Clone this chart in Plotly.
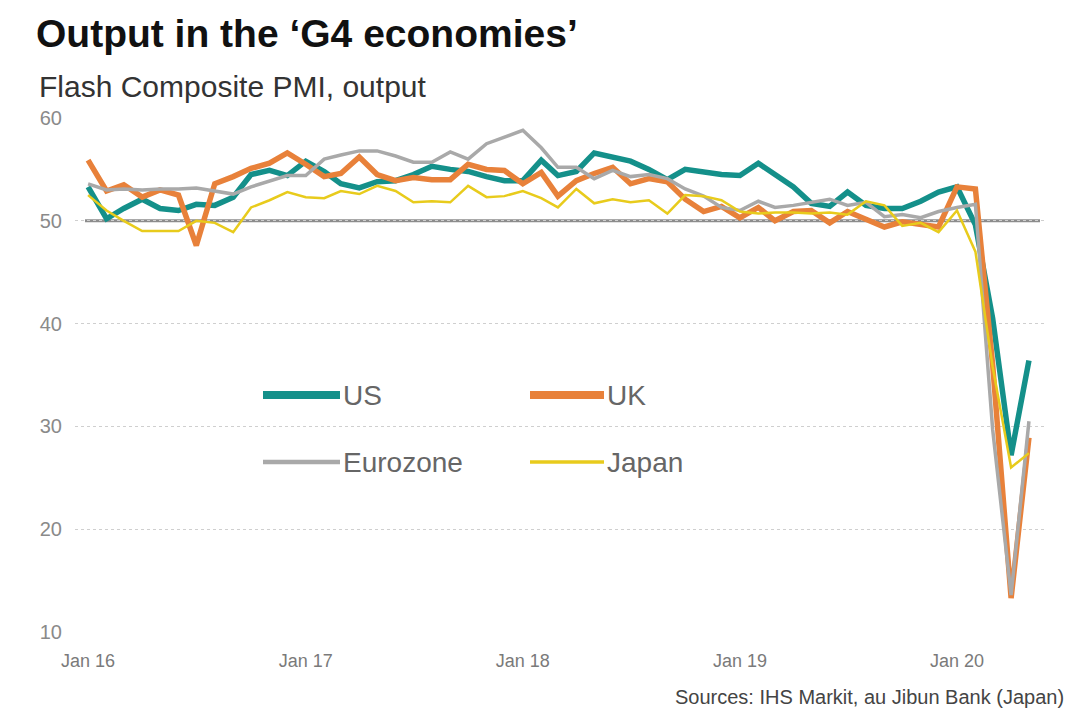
import pandas as pd
import plotly.graph_objects as go

# ---------------- data ----------------
months = pd.date_range("2016-01-01", "2020-05-01", freq="MS")

us = [53.3, 50.2, 51.2, 52.1, 51.2, 51.0, 51.6, 51.5, 52.3, 54.5, 54.9, 54.4,
      55.8, 54.8, 53.6, 53.2, 53.8, 53.9, 54.5, 55.3, 55.0, 54.8, 54.3, 53.9,
      53.9, 55.9, 54.4, 54.8, 56.6, 56.2, 55.8, 55.0, 54.0, 55.0, 54.7, 54.5,
      54.4, 55.6, 54.5, 53.3, 51.7, 51.4, 52.8, 51.5, 51.2, 51.2, 51.9, 52.8,
      53.3, 49.6, 40.5, 27.2, 36.4]

uk = [55.9, 52.9, 53.5, 52.3, 53.0, 52.5, 47.6, 53.6, 54.3, 55.1, 55.6, 56.6,
      55.5, 54.3, 54.6, 56.2, 54.5, 53.9, 54.2, 54.0, 54.0, 55.5, 55.0, 54.9,
      53.6, 54.7, 52.4, 53.9, 54.6, 55.2, 53.6, 54.1, 53.8, 52.1, 50.9, 51.4,
      50.3, 51.3, 50.0, 50.9, 51.0, 49.8, 50.9, 50.2, 49.4, 49.9, 49.6, 49.4,
      53.3, 53.1, 36.0, 13.3, 28.9]

eurozone = [53.6, 53.0, 53.1, 53.0, 53.1, 53.1, 53.2, 52.9, 52.6, 53.3, 53.9, 54.4,
            54.4, 56.0, 56.4, 56.8, 56.8, 56.3, 55.7, 55.7, 56.7, 56.0, 57.5, 58.1,
            58.8, 57.1, 55.2, 55.2, 54.1, 54.9, 54.3, 54.5, 54.1, 53.1, 52.4, 51.3,
            51.0, 51.9, 51.3, 51.5, 51.8, 52.1, 51.5, 51.8, 50.4, 50.6, 50.3, 50.9,
            51.3, 51.6, 29.7, 13.6, 30.5]

japan = [52.5, 51.0, 50.0, 49.0, 49.0, 49.0, 50.0, 49.8, 48.9, 51.3, 52.0, 52.8,
         52.3, 52.2, 52.9, 52.6, 53.4, 52.9, 51.8, 51.9, 51.8, 53.4, 52.3, 52.4,
         52.9, 52.2, 51.3, 53.1, 51.7, 52.1, 51.8, 52.0, 50.7, 52.5, 52.4, 52.0,
         50.9, 50.7, 50.8, 50.8, 50.7, 50.8, 50.6, 51.9, 51.5, 49.5, 49.8, 48.9,
         51.0, 47.0, 35.8, 26.0, 27.4]

tick_dates = ["2016-01-01", "2017-01-01", "2018-01-01", "2019-01-01", "2020-01-01"]
tick_labels = ["Jan 16", "Jan 17", "Jan 18", "Jan 19", "Jan 20"]
y_ticks = [10, 20, 30, 40, 50, 60]

title = "Output in the \u2018G4 economies\u2019"
subtitle = "Flash Composite PMI, output"
source = "Sources: IHS Markit, au Jibun Bank (Japan)"

# ---------------- style ----------------
OFF = 8                      # page body margin of the html page
W, H = 1078 - OFF, 715 - OFF
L, R, T, B = 75 - OFF, 33, 118 - OFF, 83
PW, PH = W - L - R, H - T - B

styles = {
    "US": ("#14908a", 5.5),
    "UK": ("#e8813a", 5.5),
    "Eurozone": ("#a9a9a9", 3.5),
    "Japan": ("#e8cb1c", 2.5),
}
series = [("US", us), ("UK", uk), ("Eurozone", eurozone), ("Japan", japan)]

FONT = "Liberation Sans, Arial, sans-serif"

fig = go.Figure()
for name, vals in series:
    color, width = styles[name]
    fig.add_trace(go.Scatter(x=months, y=vals, mode="lines", name=name,
                             line=dict(color=color, width=width),
                             showlegend=False))


def px_x(px):
    # page pixel -> paper x
    return (px - OFF - L) / PW


def px_y(py):
    # page pixel -> paper y
    return (T + PH - (py - OFF)) / PH


shapes = [dict(type="line", xref="paper", yref="y", x0=px_x(85), x1=px_x(1040),
               y0=50, y1=50, line=dict(color="#8c8c8c", width=3), layer="below")]
annotations = []

# manual legend (2 x 2)
legend_pos = {"US": (263, 340, 395), "UK": (530, 604, 395),
              "Eurozone": (263, 340, 462), "Japan": (530, 604, 462)}
for name, _ in series:
    color, width = styles[name]
    x0, x1, yy = legend_pos[name]
    shapes.append(dict(type="line", xref="paper", yref="paper",
                       x0=px_x(x0), x1=px_x(x1), y0=px_y(yy), y1=px_y(yy),
                       line=dict(color=color, width=width + 2.5 if width > 4 else width + 1)))
    annotations.append(dict(xref="paper", yref="paper", x=px_x(x1 + 1), y=px_y(yy),
                            text=name, showarrow=False, xanchor="left", yanchor="middle",
                            font=dict(family=FONT, size=28, color="#666666")))

annotations.append(dict(xref="paper", yref="paper", x=px_x(37), y=px_y(86),
                        text=subtitle, showarrow=False, xanchor="left", yanchor="middle",
                        font=dict(family=FONT, size=30, color="#333333")))
annotations.append(dict(xref="paper", yref="paper", x=px_x(1066), y=px_y(697),
                        text=source, showarrow=False, xanchor="right", yanchor="middle",
                        font=dict(family=FONT, size=20, color="#444444")))

fig.update_layout(
    width=W, height=H,
    margin=dict(l=L, r=R, t=T, b=B, pad=0),
    paper_bgcolor="white", plot_bgcolor="white",
    title=dict(text="<b>" + title + "</b>", x=(36 - OFF) / W, xanchor="left",
               xref="container", y=1 - (33 - OFF) / H, yanchor="middle", yref="container",
               font=dict(family=FONT, size=39, color="#111111")),
    shapes=shapes,
    annotations=annotations,
    showlegend=False,
)

fig.update_xaxes(type="date", range=["2015-12-10", "2020-05-28"],
                 tickvals=tick_dates, ticktext=tick_labels,
                 showgrid=False, zeroline=False, showline=False, ticks="",
                 ticklabelstandoff=16,
                 tickfont=dict(family=FONT, size=18, color="#7a7a7a"))
fig.update_yaxes(range=[10, 60], tickvals=y_ticks,
                 showgrid=True, gridcolor="#cfcfcf", griddash="dot", gridwidth=1.3,
                 zeroline=False, showline=False, ticks="",
                 ticklabelstandoff=12,
                 tickfont=dict(family=FONT, size=20, color="#8a8a8a"))

fig.write_html("out.html")
